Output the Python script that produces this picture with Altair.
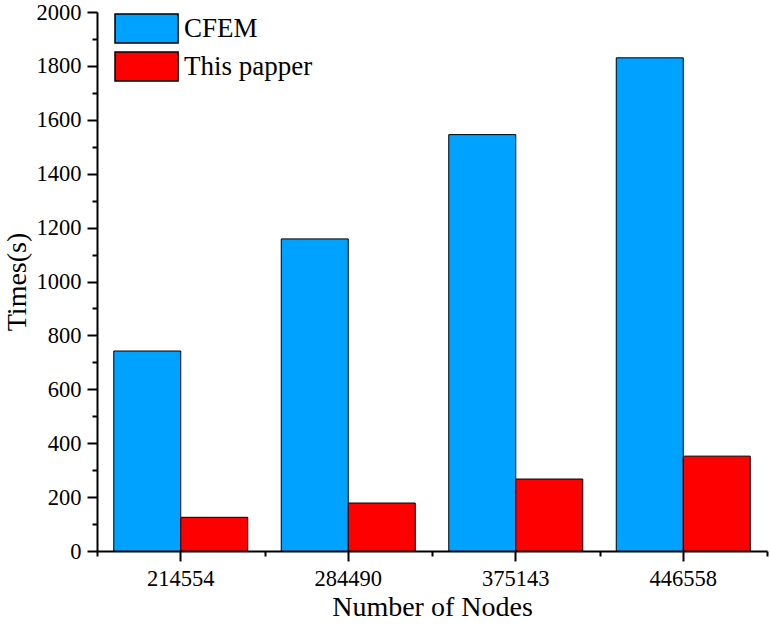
import altair as alt
import pandas as pd

nodes = ["214554", "284490", "375143", "446558"]
methods = ["CFEM", "This papper"]
cfem_times = [742, 1158, 1545, 1830]
paper_times = [125, 178, 267, 352]
colors = ["#00A2FF", "#FF0000"]
y_major = list(range(0, 2001, 200))
y_minor = list(range(100, 2000, 200))
x_minor = [0, 1, 2, 3, 4]

rows = []
for n, c, p in zip(nodes, cfem_times, paper_times):
    rows.append({"nodes": n, "method": methods[0], "value": c})
    rows.append({"nodes": n, "method": methods[1], "value": p})
df = pd.DataFrame(rows)

FONT = "Liberation Serif"

yscale = alt.Scale(domain=[0, 2000], nice=False, zero=True)

bars = alt.Chart(df).mark_bar(stroke="black", strokeWidth=1, opacity=1).encode(
    x=alt.X(
        "nodes:N",
        sort=nodes,
        scale=alt.Scale(paddingInner=0, paddingOuter=0),
        axis=alt.Axis(
            orient="bottom",
            title="Number of Nodes",
            labelAngle=0,
            tickSize=10,
            tickWidth=2,
            domainWidth=2,
            bandPosition=0.5,
            labelPadding=6,
            titlePadding=4,
            labelFontSize=22.5,
            titleFontSize=28,
            grid=False,
        ),
    ),
    xOffset=alt.XOffset(
        "method:N",
        sort=methods,
        scale=alt.Scale(paddingInner=0, paddingOuter=0.25),
    ),
    y=alt.Y(
        "value:Q",
        scale=yscale,
        axis=alt.Axis(
            orient="left",
            title="Times(s)",
            values=y_major,
            format="d",
            tickSize=10,
            tickWidth=2,
            domainWidth=2,
            labelPadding=6,
            titlePadding=5,
            labelFontSize=22.5,
            titleFontSize=28,
            grid=False,
        ),
    ),
    color=alt.Color(
        "method:N",
        sort=methods,
        scale=alt.Scale(domain=methods, range=colors),
        legend=alt.Legend(
            title=None,
            orient="none",
            legendX=17,
            legendY=1,
            symbolType="M-1,-1H3.35V1H-1Z",
            symbolSize=841,
            symbolStrokeColor="black",
            symbolStrokeWidth=1.5,
            symbolOpacity=1,
            labelOffset=39,
            labelFontSize=27,
            labelFont=FONT,
            labelColor="black",
            labelLimit=400,
            rowPadding=3,
            padding=0,
        ),
    ),
)

minor = alt.Chart(df).mark_point(opacity=0).encode(
    x=alt.XDatum(
        0,
        type="quantitative",
        scale=alt.Scale(domain=[0, 4], nice=False, zero=False),
        axis=alt.Axis(
            orient="bottom",
            values=x_minor,
            tickSize=5,
            tickWidth=2,
            labels=False,
            domain=False,
            grid=False,
            title=None,
        ),
    ),
    y=alt.Y(
        "value:Q",
        scale=yscale,
        axis=alt.Axis(
            orient="left",
            values=y_minor,
            tickSize=5,
            tickWidth=2,
            labels=False,
            domain=False,
            grid=False,
            title=None,
        ),
    ),
)

chart = (
    alt.layer(bars, minor)
    .resolve_scale(x="independent", y="shared")
    .resolve_axis(x="independent", y="independent")
    .properties(
        width=670,
        height=539,
        background="white",
        autosize=alt.AutoSizeParams(type="none"),
        padding={"left": 97, "top": 12, "right": 3, "bottom": 82},
    )
    .configure_view(stroke=None)
    .configure_axis(
        labelFont=FONT,
        titleFont=FONT,
        labelColor="black",
        titleColor="black",
        domainColor="black",
        tickColor="black",
        titleFontWeight="normal",
    )
)

chart.save("out.html", embed_options={"renderer": "svg", "actions": False})
